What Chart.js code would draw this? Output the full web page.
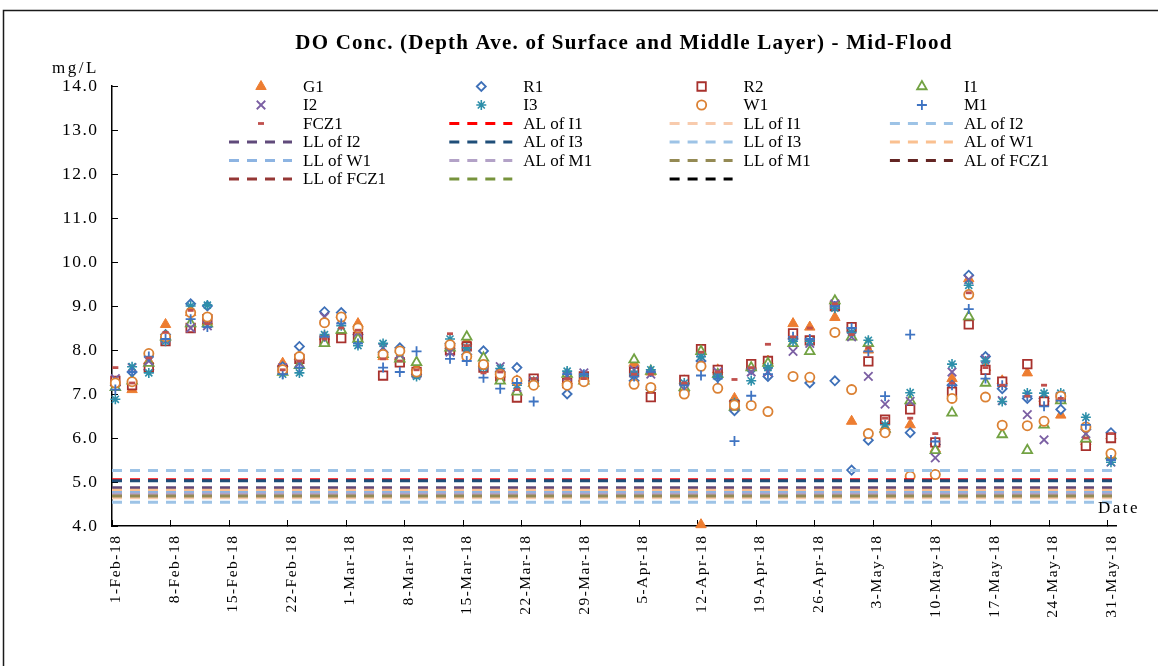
<!DOCTYPE html>
<html>
<head>
<meta charset="utf-8">
<title>DO Conc. - Mid-Flood</title>
<script src="https://cdn.jsdelivr.net/npm/chart.js@4.4.1/dist/chart.umd.min.js"></script>
<style>
  html, body { margin: 0; padding: 0; background: #fff; }
  #wrap { position: relative; width: 1158px; height: 666px; overflow: hidden; }
</style>
</head>
<body>
<div id="wrap"><canvas id="doChart" width="1158" height="666"></canvas></div>
<script>
/* survey dates (sampled late morning, ~0.4 day after midnight) */
const sampleDates = [
  "2018-02-01", "2018-02-03", "2018-02-05", "2018-02-07", "2018-02-10", "2018-02-12",
  "2018-02-21", "2018-02-23", "2018-02-26", "2018-02-28", "2018-03-02", "2018-03-05",
  "2018-03-07", "2018-03-09", "2018-03-13", "2018-03-15", "2018-03-17", "2018-03-19",
  "2018-03-21", "2018-03-23", "2018-03-27", "2018-03-29", "2018-04-04", "2018-04-06",
  "2018-04-10", "2018-04-12", "2018-04-14", "2018-04-16", "2018-04-18", "2018-04-20",
  "2018-04-23", "2018-04-25", "2018-04-28", "2018-04-30", "2018-05-02", "2018-05-04",
  "2018-05-07", "2018-05-10", "2018-05-12", "2018-05-14", "2018-05-16", "2018-05-18",
  "2018-05-21", "2018-05-23", "2018-05-25", "2018-05-28", "2018-05-31"
];
const sampleHour = 9.6;
const axisStart = "2018-02-01";
const axisDays = 120;

const tickLabels = [
  "1-Feb-18", "8-Feb-18", "15-Feb-18", "22-Feb-18", "1-Mar-18", "8-Mar-18",
  "15-Mar-18", "22-Mar-18", "29-Mar-18", "5-Apr-18", "12-Apr-18", "19-Apr-18",
  "26-Apr-18", "3-May-18", "10-May-18", "17-May-18", "24-May-18", "31-May-18"
];

/* DO (mg/L), depth average of surface and middle layer */
const G1 = [7.25, 7.1, 7.75, 8.58, 8.85, 8.65, 7.7, 7.85, 8.3, 8.8, 8.6, 7.85, 7.85, 7.6, 8.1, 8.2, 7.7, 7.45, 7.3, 7.3, 7.3, 7.35, 7.7, 7.5, 7.3, 4.03, 7.55, 6.9, 7.65, 7.75, 8.6, 8.52, 8.74, 6.38, 8.0, 6.25, 6.3, 5.75, 7.35, 9.62, 7.6, 7.3, 7.48, 6.9, 6.52, 5.92, 6.05];
const R1 = [7.2, 7.5, 7.55, 8.35, 9.05, 9.0, 7.62, 8.08, 8.87, 8.85, 8.35, 7.95, 8.05, 7.45, 8.15, 7.9, 7.98, 7.5, 7.6, 7.3, 7.0, 7.3, 7.3, 7.1, 7.05, 7.75, 7.38, 6.62, 7.55, 7.4, 8.25, 7.25, 7.3, 5.27, 5.95, 6.15, 6.12, 5.85, 7.2, 9.7, 7.85, 7.12, 6.9, 6.9, 6.65, 6.2, 6.12];
const R2 = [7.3, 7.2, 7.6, 8.2, 8.5, 8.7, 7.55, 7.8, 8.22, 8.27, 8.3, 7.42, 7.72, 7.5, 8.0, 8.08, 7.6, 7.4, 6.92, 7.35, 7.25, 7.4, 7.5, 6.93, 7.32, 8.02, 7.55, 6.75, 7.68, 7.75, 8.38, 8.22, 9.0, 8.52, 7.74, 6.42, 6.65, 5.9, 7.05, 8.58, 7.55, 7.28, 7.68, 6.83, 6.9, 5.82, 6.0];
const I1 = [7.15, 7.3, 7.7, 8.3, 8.6, 8.6, 7.5, 7.65, 8.15, 8.45, 8.25, 7.9, 7.8, 7.72, 8.05, 8.3, 7.82, 7.3, 7.05, 7.25, 7.45, 7.3, 7.78, 7.52, 7.15, 7.97, 7.45, 6.7, 7.6, 7.7, 8.15, 7.97, 9.12, 8.3, 8.15, 6.2, 6.85, 5.72, 6.57, 8.76, 7.25, 6.08, 5.72, 6.3, 6.85, 5.98, 5.6];
const I2 = [7.35, 7.6, 7.75, 8.25, 8.5, 8.55, 7.6, 7.7, 8.75, 8.7, 8.4, 8.05, 7.9, 7.45, 7.95, 7.97, 7.65, 7.62, 7.15, 7.3, 7.4, 7.48, 7.55, 7.45, 7.1, 7.78, 7.5, 6.72, 7.5, 7.5, 7.97, 8.15, 9.05, 8.3, 7.4, 6.77, 6.83, 5.55, 7.5, 9.6, 7.8, 6.85, 6.53, 5.96, 6.95, 6.1, 5.45];
const I3 = [6.88, 7.62, 7.48, 8.2, 9.0, 9.02, 7.45, 7.48, 8.35, 8.55, 8.1, 8.15, 7.95, 7.4, 8.25, 8.05, 7.6, 7.58, 7.2, 7.28, 7.52, 7.4, 7.45, 7.55, 7.25, 7.85, 7.4, 6.8, 7.3, 7.6, 8.2, 8.2, 8.95, 8.4, 8.22, 6.3, 7.03, 5.18, 7.68, 9.47, 7.75, 6.83, 7.02, 7.02, 7.02, 6.47, 5.45];
const W1 = [7.25, 7.28, 7.92, 8.3, 8.85, 8.75, 7.55, 7.85, 8.62, 8.75, 8.5, 7.9, 7.98, 7.5, 8.12, 7.85, 7.67, 7.45, 7.3, 7.2, 7.2, 7.28, 7.22, 7.15, 7.0, 7.63, 7.13, 6.75, 6.74, 6.6, 7.4, 7.38, 8.4, 7.1, 6.1, 6.12, 5.13, 5.17, 6.9, 9.26, 6.93, 6.29, 6.28, 6.38, 6.95, 6.25, 5.65];
const M1 = [7.1, 7.5, 7.85, 8.25, 8.7, 8.52, 7.45, 7.6, 8.3, 8.6, 8.15, 7.6, 7.5, 7.97, 7.8, 7.75, 7.37, 7.12, 7.25, 6.83, 7.45, 7.45, 7.4, 7.5, 7.2, 7.42, 7.35, 5.93, 6.96, 7.45, 8.3, 8.25, 9.0, 8.5, 7.97, 6.95, 8.35, 5.92, 7.2, 8.93, 7.35, 7.2, 6.95, 6.72, 6.85, 6.3, 5.5];
const FCZ1 = [7.6, 7.25, 7.82, 8.4, 8.9, 8.6, 7.55, 7.75, 8.25, 8.5, 8.45, 7.8, 7.75, 7.55, 8.37, 8.1, 7.48, 7.5, 7.1, 7.35, 7.35, 7.35, 7.45, 7.45, 7.25, 7.95, 7.5, 7.33, 7.6, 8.13, 8.3, 8.5, 9.05, 8.35, 8.05, 6.45, 6.45, 6.1, 7.25, 9.3, 7.6, 7.2, 6.95, 7.2, 6.9, 6.0, 6.1];

const stationNames = ["G1", "R1", "R2", "I1", "I2", "I3", "W1", "M1", "FCZ1"];
const stationValues = [G1, R1, R2, I1, I2, I3, W1, M1, FCZ1];

/* action / limit levels (mg/L); the last two legend entries have no name */
const limitNames = [
  "AL of I1", "LL of I1", "AL of I2", "LL of I2", "AL of I3", "LL of I3",
  "AL of W1", "LL of W1", "AL of M1", "LL of M1", "AL of FCZ1", "LL of FCZ1", "", ""
];
const limitLevels = [5.05, 4.64, 5.26, 4.87, 5.03, 4.54, 4.81, 4.76, 4.72, 4.68, null, null, null, null];

/* styles */
const stationStyles = [
  { shape: "triangle", r: 6, color: "#ED7D31", fill: "#ED7D31", bw: 1 },
  { shape: "rectRot", r: 4.5, color: "#3E70B8", fill: "#fff", bw: 1.8 },
  { shape: "rect", r: 6, color: "#A8312D", fill: "#fff", bw: 1.8 },
  { shape: "triangle", r: 5.5, color: "#72A243", fill: "#fff", bw: 1.8 },
  { shape: "crossRot", r: 6, color: "#7B5FA3", fill: "#fff", bw: 1.8 },
  { shape: "star", r: 5, color: "#2D8FAA", fill: "#fff", bw: 1.6 },
  { shape: "circle", r: 4.6, color: "#DB8133", fill: "#fff", bw: 1.8 },
  { shape: "cross", r: 5, color: "#3F74C2", fill: "#fff", bw: 1.8 },
  { shape: "line", r: 3, color: "#C0504D", fill: "#C0504D", bw: 2.8 }
];
const limitColors = [
  "#FF0000", "#F8CBAD", "#9DC3E6", "#604A7B", "#1F4E79", "#9DC3E6",
  "#FAC090", "#8DB4E2", "#B3A2C7", "#948A54", "#632523", "#953735", "#77933C", "#000000"
];

const FONT = '"Liberation Serif", "Times New Roman", serif';
Chart.defaults.font.family = FONT;
Chart.defaults.color = "#000";

const dayMs = 864e5;
const t0 = Date.parse(axisStart + "T00:00:00Z");
const xDays = sampleDates.map(d => (Date.parse(d + "T00:00:00Z") - t0) / dayMs + sampleHour / 24);

const datasets = [];
stationNames.forEach((name, i) => {
  const st = stationStyles[i];
  datasets.push({
    label: name,
    data: stationValues[i].map((v, k) => ({ x: xDays[k], y: v })),
    showLine: false,
    pointStyle: st.shape,
    pointRadius: st.r,
    pointHoverRadius: st.r,
    pointBorderWidth: st.bw,
    pointBorderColor: st.color,
    pointBackgroundColor: st.fill,
    borderColor: st.color,
    backgroundColor: st.fill,
    clip: 12
  });
});
limitNames.forEach((name, i) => {
  const lv = limitLevels[i];
  datasets.push({
    label: name,
    data: lv === null ? [] : [{ x: 0, y: lv }, { x: axisDays, y: lv }],
    showLine: true,
    borderColor: limitColors[i],
    borderWidth: 3,
    borderDash: [10, 8],
    pointRadius: 0,
    pointHoverRadius: 0,
    fill: false
  });
});
const total = datasets.length;
datasets.forEach((ds, i) => { ds.order = total - i; });

function spacedText(ctx, text, x, y, spacing) {
  ctx.letterSpacing = spacing + "px";
  ctx.fillText(text, x, y);
  ctx.letterSpacing = "0px";
}

/* Excel renders its axis text a little wider than the canvas does */
const wideText = {
  id: "wideText",
  beforeDraw(chart) { chart.ctx.letterSpacing = "1.5px"; },
  afterDraw(chart) { chart.ctx.letterSpacing = "0px"; }
};

/* Excel-style legend, title and labels */
const decor = {
  id: "decor",
  afterDraw(chart) {
    const ctx = chart.ctx;
    const area = chart.chartArea;
    ctx.save();

    // outer frame
    ctx.strokeStyle = "#1a1a1a";
    ctx.lineWidth = 1.5;
    ctx.strokeRect(3.5, 10.5, 1180, 700);

    // title
    ctx.fillStyle = "#000";
    ctx.font = "bold 21px " + FONT;
    ctx.textAlign = "center";
    ctx.textBaseline = "middle";
    spacedText(ctx, "DO Conc. (Depth Ave. of Surface and Middle Layer) - Mid-Flood", 624, 44, 1.2);

    // unit and axis name
    ctx.font = "17px " + FONT;
    ctx.textAlign = "left";
    spacedText(ctx, "mg/L", 52, 69, 2.5);
    spacedText(ctx, "Date", 1098, area.bottom - 17, 2.5);

    // legend: 4 columns, row by row
    chart.data.datasets.forEach((ds, i) => {
      const col = i % 4;
      const row = Math.floor(i / 4);
      const x0 = 229 + col * 220.3;
      const y = 86.5 + row * 18.5;
      if (ds.showLine) {
        ctx.save();
        ctx.strokeStyle = ds.borderColor;
        ctx.lineWidth = ds.borderWidth;
        ctx.setLineDash(ds.borderDash);
        ctx.beginPath();
        ctx.moveTo(x0, y);
        ctx.lineTo(x0 + 63, y);
        ctx.stroke();
        ctx.restore();
      } else {
        ctx.save();
        ctx.strokeStyle = ds.pointBorderColor;
        ctx.fillStyle = ds.pointBackgroundColor;
        ctx.lineWidth = ds.pointBorderWidth;
        Chart.helpers.drawPoint(ctx, {
          pointStyle: ds.pointStyle, radius: ds.pointRadius,
          borderWidth: ds.pointBorderWidth, rotation: 0
        }, x0 + 32, y);
        ctx.restore();
      }
      ctx.fillStyle = "#000";
      ctx.font = "17px " + FONT;
      ctx.textAlign = "left";
      ctx.textBaseline = "middle";
      spacedText(ctx, ds.label, x0 + 74, y + 1, 0);
    });
    ctx.restore();
  }
};

new Chart(document.getElementById("doChart"), {
  type: "scatter",
  data: { datasets },
  options: {
    responsive: false,
    devicePixelRatio: 1,
    animation: false,
    events: [],
    layout: { padding: { top: 86, right: 42, left: 0, bottom: 0 } },
    plugins: { legend: { display: false }, tooltip: { enabled: false }, title: { display: false } },
    scales: {
      x: {
        type: "linear",
        min: 0,
        max: axisDays,
        afterBuildTicks: s => { s.ticks = tickLabels.map((_, i) => ({ value: i * 7 })); },
        afterFit: s => { s.height = 140; },
        ticks: {
          autoSkip: false, minRotation: 90, maxRotation: 90,
          callback: (v, i) => tickLabels[i],
          font: { size: 15.5 }, color: "#000", padding: 14.5, labelOffset: 4
        },
        grid: { drawOnChartArea: false, tickLength: -6, color: "#000", lineWidth: 1 },
        border: { color: "#000", width: 1.5 }
      },
      y: {
        min: 4,
        max: 14,
        afterFit: s => { s.width = 112; },
        ticks: { stepSize: 1, callback: v => v.toFixed(1), font: { size: 17.5 }, color: "#000", padding: 19.5 },
        grid: { drawOnChartArea: false, tickLength: -6, color: "#000", lineWidth: 1 },
        border: { color: "#000", width: 1.5 }
      }
    }
  },
  plugins: [wideText, decor]
});
</script>
</body>
</html>
